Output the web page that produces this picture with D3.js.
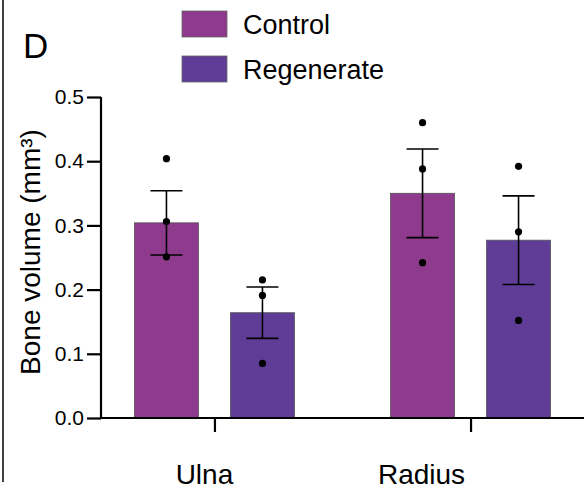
<!DOCTYPE html>
<html>
<head>
<meta charset="utf-8">
<script src="https://cdn.jsdelivr.net/npm/d3@7"></script>
<style>
  body { margin: 0; background: #fff; }
  text { font-family: "Liberation Sans", Arial, sans-serif; fill: #000; }
</style>
</head>
<body>
<svg id="chart" width="584" height="491"></svg>
<script>
// bone volume per limb bone, control vs regenerate
var bones = ["Ulna", "Radius"];
var groups = ["Control", "Regenerate"];
var means = [[0.304, 0.164], [0.350, 0.277]];
var sems = [[0.050, 0.040], [0.069, 0.069]];
var points = [
  [[0.404, 0.306, 0.251], [0.215, 0.191, 0.085]],
  [[0.460, 0.388, 0.242], [0.392, 0.290, 0.152]]
];
var yTicks = [0.0, 0.1, 0.2, 0.3, 0.4, 0.5];
var colors = ["#8e3b8d", "#5f3d97"];

var svg = d3.select("#chart");

var x = d3.scalePoint().domain(bones).range([101, 584]).padding(0.443);
var xg = d3.scaleBand().domain(groups).range([-80, 80]).paddingInner(1 / 3);
var y = d3.scaleLinear().domain([0, 0.5]).range([418, 97]);

// panel border from the figure
svg.append("line").attr("x1", 3).attr("x2", 3).attr("y1", 0).attr("y2", 482)
  .attr("stroke", "#000").attr("stroke-width", 1.5);

svg.append("text").attr("x", 23).attr("y", 58).style("font-size", "35px").text("D");

// bars
var rows = [];
bones.forEach(function (b, i) {
  groups.forEach(function (g, j) {
    rows.push({ bone: b, group: g, j: j, mean: means[i][j], sem: sems[i][j], pts: points[i][j] });
  });
});

svg.selectAll(".bar").data(rows).enter().append("rect")
  .attr("class", "bar")
  .attr("x", function (d) { return x(d.bone) + xg(d.group); })
  .attr("width", xg.bandwidth())
  .attr("y", function (d) { return y(d.mean); })
  .attr("height", function (d) { return y(0) - y(d.mean); })
  .attr("fill", function (d) { return colors[d.j]; })
  .attr("stroke", "#555").attr("stroke-width", 0.8);

// error bars
var eb = svg.selectAll(".err").data(rows).enter().append("g").attr("class", "err")
  .attr("transform", function (d) { return "translate(" + (x(d.bone) + xg(d.group) + xg.bandwidth() / 2) + ",0)"; })
  .attr("stroke", "#000").attr("stroke-width", 1.6);
eb.append("line").attr("y1", function (d) { return y(d.mean - d.sem); }).attr("y2", function (d) { return y(d.mean + d.sem); });
eb.append("line").attr("x1", -16).attr("x2", 16)
  .attr("y1", function (d) { return y(d.mean + d.sem); }).attr("y2", function (d) { return y(d.mean + d.sem); });
eb.append("line").attr("x1", -16).attr("x2", 16)
  .attr("y1", function (d) { return y(d.mean - d.sem); }).attr("y2", function (d) { return y(d.mean - d.sem); });

// individual points
eb.each(function (d) {
  d3.select(this).selectAll("circle").data(d.pts).enter().append("circle")
    .attr("cx", 0).attr("cy", function (v) { return y(v); })
    .attr("r", 3.6).attr("fill", "#000").attr("stroke", "none");
});

// y axis
var yAxis = svg.append("g").attr("transform", "translate(101,0)")
  .call(d3.axisLeft(y).tickValues(yTicks).tickSize(14).tickPadding(3).tickFormat(d3.format(".1f")));
yAxis.select(".domain").attr("d", "M0," + y(0.5) + "V" + (y(0) + 1)).attr("stroke-width", 2.2);
yAxis.selectAll(".tick line").attr("stroke-width", 2.2);
yAxis.selectAll(".tick text").style("font-size", "21px").attr("font-family", null);

// x axis
var xAxis = svg.append("g").attr("transform", "translate(0," + y(0) + ")")
  .call(d3.axisBottom(x).tickSize(14).tickFormat(""));
xAxis.select(".domain").attr("d", "M100,0H584").attr("stroke-width", 2.2);
xAxis.selectAll(".tick line").attr("stroke-width", 2.2);

var labelShift = { Ulna: -10, Radius: -49 };
svg.selectAll(".cat").data(bones).enter().append("text")
  .attr("class", "cat")
  .attr("x", function (d) { return x(d) + labelShift[d]; })
  .attr("y", 484)
  .attr("text-anchor", "middle")
  .style("font-size", "28px")
  .text(function (d) { return d; });

// y label
svg.append("text")
  .attr("transform", "translate(40,252) rotate(-90)")
  .attr("text-anchor", "middle")
  .style("font-size", "28px")
  .text("Bone volume (mm³)");

// legend
var lg = svg.selectAll(".leg").data(groups).enter().append("g").attr("class", "leg")
  .attr("transform", function (d, i) { return "translate(182," + (11 + i * 45) + ")"; });
lg.append("rect").attr("width", 45).attr("height", 26)
  .attr("fill", function (d, i) { return colors[i]; }).attr("stroke", "#666").attr("stroke-width", 0.8);
lg.append("text").attr("x", 61).attr("y", 23).style("font-size", "27px").text(function (d) { return d; });
</script>
</body>
</html>
